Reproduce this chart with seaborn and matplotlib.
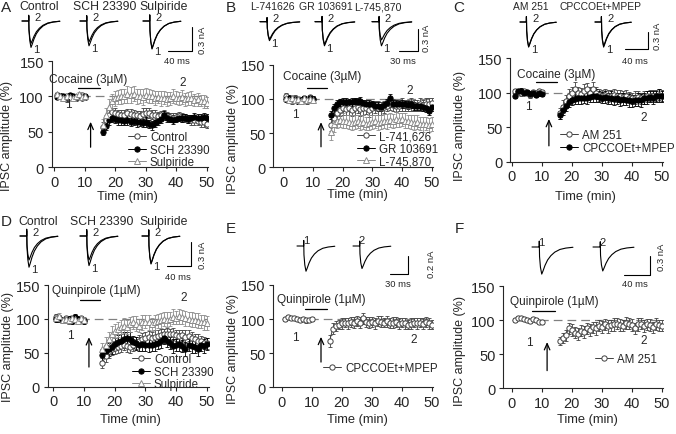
import matplotlib
matplotlib.use("Agg")
import pandas as pd
import matplotlib.pyplot as plt
from matplotlib.lines import Line2D
import seaborn as sns

W, H = 676, 435

# sampling times (min)
t_base = list(range(1, 11))
t_post = list(range(16, 51))

# ---- A: cocaine, D1/D2 antagonists
A_ctrl_b = [102, 100, 98, 96, 101, 99, 97, 100, 102, 99]
A_ctrl_p = [57, 66, 74, 78, 77, 75, 74, 73, 76, 75, 74, 73, 72, 75, 77, 76, 74, 73, 72, 73,
            74, 72, 71, 70, 71, 72, 70, 69, 68, 67, 66, 65, 64, 63, 61]
A_sch_b = [99, 101, 100, 98, 102, 100, 99, 101, 98, 100]
A_sch_p = [50, 58, 66, 70, 68, 67, 66, 65, 66, 64, 65, 63, 64, 62, 64, 61, 59, 62, 65, 68,
           74, 70, 68, 67, 68, 70, 69, 70, 68, 69, 71, 69, 70, 71, 70]
A_sul_b = [103, 100, 98, 101, 99, 97, 100, 103, 99, 100]
A_sul_p = [60, 73, 85, 93, 97, 99, 100, 101, 103, 102, 104, 100, 101, 99, 102, 101, 100, 98, 99, 97,
           98, 96, 97, 100, 98, 97, 99, 96, 97, 98, 95, 96, 94, 93, 91]
A_err_b = [3, 4, 3, 4, 3, 3, 4, 3, 3, 4]
A_ctrl_e = [7, 8, 7, 6, 7, 6, 7, 7, 6, 7, 7, 6, 7, 8, 7, 7, 6, 7, 6, 6,
            7, 6, 6, 7, 6, 6, 7, 6, 6, 7, 6, 6, 7, 6, 6]
A_sch_e = [5, 6, 7, 6, 6, 7, 6, 6, 7, 6, 6, 7, 6, 6, 7, 6, 6, 5, 6, 6,
           5, 6, 5, 6, 5, 5, 6, 5, 6, 5, 5, 6, 5, 5, 5]
A_sul_e = [8, 10, 11, 10, 11, 10, 11, 10, 12, 11, 10, 11, 10, 11, 10, 10, 9, 10, 9, 10,
           9, 10, 9, 10, 9, 9, 10, 9, 9, 10, 9, 9, 8, 9, 8]

# ---- B: cocaine, D2/D3/D4 antagonists
B_l741_b = [104, 100, 97, 102, 99, 98, 100, 97, 103, 100]
B_l741_p = [62, 72, 80, 84, 86, 85, 87, 84, 86, 88, 85, 86, 87, 84, 86, 88, 87, 86, 88, 90,
            92, 91, 89, 90, 92, 91, 90, 92, 91, 90, 92, 91, 93, 92, 94]
B_gr_b = [100, 102, 98, 100, 97, 99, 101, 98, 102, 100]
B_gr_p = [76, 86, 93, 95, 95, 96, 95, 96, 97, 96, 97, 94, 93, 93, 92, 90, 89, 88, 91, 94,
          101, 93, 92, 92, 93, 92, 91, 92, 90, 89, 90, 88, 87, 82, 88]
B_l745_b = [101, 99, 102, 98, 100, 97, 101, 99, 100, 98]
B_l745_p = [52, 63, 68, 69, 68, 67, 66, 65, 66, 67, 65, 66, 64, 65, 66, 67, 65, 66, 68, 67,
            69, 68, 70, 69, 70, 68, 67, 66, 65, 66, 64, 63, 64, 62, 63]
B_err_b = [4, 3, 4, 3, 4, 3, 3, 4, 3, 4]
B_l741_e = [9, 9, 10, 9, 10, 9, 10, 9, 10, 9, 10, 9, 9, 10, 9, 9, 10, 9, 9, 8,
            8, 9, 8, 8, 9, 8, 8, 9, 8, 8, 9, 8, 8, 9, 8]
B_gr_e = [6, 6, 5, 5, 6, 5, 5, 6, 5, 5, 6, 5, 5, 6, 5, 5, 6, 5, 5, 6,
          6, 5, 6, 5, 6, 5, 6, 5, 6, 5, 6, 5, 6, 6, 6]
B_l745_e = [12, 11, 10, 10, 11, 10, 10, 11, 10, 10, 11, 10, 10, 11, 10, 10, 11, 10, 10, 11,
            10, 10, 11, 10, 10, 11, 10, 10, 11, 10, 10, 11, 10, 10, 10]

# ---- C: cocaine, CB1 / mGluR antagonists
C_am_b = [103, 101, 99, 102, 100, 97, 101, 99, 102, 101]
C_am_p = [70, 80, 88, 95, 100, 105, 100, 98, 103, 105, 100, 105, 100, 97, 96, 97, 95, 96, 97, 95,
          96, 94, 95, 93, 92, 93, 94, 92, 93, 95, 96, 95, 96, 97, 96]
C_cp_b = [96, 102, 103, 100, 101, 98, 100, 97, 99, 98]
C_cp_p = [68, 75, 81, 87, 90, 91, 92, 92, 93, 92, 94, 95, 96, 94, 93, 94, 92, 93, 91, 92,
          90, 91, 90, 89, 88, 89, 90, 89, 92, 93, 94, 93, 95, 96, 95]
C_err_b = [3, 3, 4, 3, 3, 4, 3, 3, 4, 3]
C_am_e = [8, 9, 9, 10, 9, 10, 9, 9, 10, 9, 9, 10, 9, 9, 8, 8, 9, 8, 8, 9,
          8, 8, 9, 8, 8, 9, 8, 8, 9, 8, 8, 9, 8, 8, 8]
C_cp_e = [6, 7, 7, 8, 8, 8, 9, 8, 8, 9, 8, 8, 9, 8, 8, 9, 8, 9, 9, 8,
          9, 9, 8, 9, 9, 8, 9, 9, 8, 9, 8, 9, 8, 9, 8]

# ---- D: quinpirole, D1/D2 antagonists
D_ctrl_b = [103, 100, 98, 101, 97, 100, 102, 99, 101, 98]
D_ctrl_p = [35, 45, 52, 55, 57, 58, 60, 62, 60, 58, 62, 65, 68, 70, 72, 73, 72, 74, 75, 76,
            77, 78, 77, 78, 76, 75, 76, 74, 75, 72, 70, 68, 67, 65, 64]
D_sch_b = [100, 101, 98, 99, 100, 97, 103, 100, 99, 97]
D_sch_p = [47, 52, 55, 58, 63, 66, 68, 70, 72, 70, 66, 64, 62, 63, 62, 61, 62, 63, 64, 67,
           72, 68, 64, 60, 62, 63, 60, 56, 62, 60, 58, 56, 62, 60, 63]
D_sul_b = [101, 104, 99, 100, 98, 102, 100, 97, 101, 99]
D_sul_p = [55, 62, 70, 78, 82, 85, 88, 90, 88, 92, 95, 93, 90, 95, 96, 95, 92, 95, 97, 98,
           100, 99, 100, 103, 102, 104, 103, 101, 100, 99, 98, 97, 96, 95, 94]
D_err_b = [4, 5, 4, 4, 5, 4, 4, 5, 4, 4]
D_ctrl_e = [8, 9, 9, 8, 9, 8, 9, 8, 9, 8, 9, 9, 8, 9, 8, 9, 8, 9, 8, 9,
            8, 9, 8, 9, 8, 9, 8, 9, 8, 9, 8, 9, 8, 9, 8]
D_sch_e = [9, 10, 9, 10, 9, 10, 9, 10, 9, 10, 9, 10, 9, 10, 9, 10, 9, 10, 9, 10,
           9, 10, 9, 10, 9, 10, 9, 10, 9, 10, 9, 10, 9, 10, 9]
D_sul_e = [10, 11, 10, 11, 10, 11, 10, 11, 10, 11, 10, 11, 10, 11, 10, 11, 10, 11, 10, 11,
           10, 11, 10, 11, 10, 11, 10, 11, 10, 11, 10, 11, 10, 11, 10]

# ---- E: quinpirole + CPCCOEt+MPEP
E_cp_b = [100, 103, 101, 102, 100, 99, 100, 98, 99, 100]
E_cp_p = [68, 86, 90, 92, 94, 95, 94, 96, 95, 97, 95, 101, 96, 95, 96, 94, 97, 96, 95, 97,
          94, 95, 96, 93, 95, 94, 92, 93, 95, 94, 95, 93, 96, 94, 92]
E_err_b = [3, 3, 3, 3, 3, 3, 3, 3, 3, 3]
E_cp_e = [9, 8, 7, 7, 8, 7, 8, 7, 8, 7, 8, 8, 7, 8, 7, 8, 7, 8, 7, 8,
          7, 8, 7, 8, 7, 8, 7, 8, 7, 8, 7, 8, 7, 8, 7]

# ---- F: quinpirole + AM 251
F_am_b = [100, 103, 104, 102, 101, 99, 102, 100, 97, 98]
F_am_p = [70, 74, 78, 88, 86, 82, 80, 85, 83, 88, 86, 90, 88, 92, 90, 94, 91, 93, 94, 95,
          93, 92, 96, 95, 93, 88, 94, 95, 92, 94, 93, 90, 95, 93, 92]
F_err_b = [3, 3, 3, 3, 3, 3, 3, 3, 3, 3]
F_am_e = [6, 7, 8, 8, 9, 8, 9, 8, 9, 8, 9, 8, 9, 8, 9, 8, 9, 8, 9, 8,
          9, 8, 9, 8, 9, 8, 9, 8, 9, 8, 9, 8, 9, 8, 8]

# inset current trace shape (ms, fraction of the peak)
trace_t = [0, 11, 11.2, 11.6, 13, 15, 17, 20, 24, 29, 35, 43, 52, 63]
trace_v = [0, 0, 0.22, -0.35, -0.75, -1.0, -0.88, -0.68, -0.48, -0.32, -0.19, -0.09, -0.04, -0.01]

# peak amplitudes (nA) of trace 1 / trace 2 for each inset
A_amps = [(0.33, 0.28), (0.31, 0.26), (0.35, 0.34)]
B_amps = [(0.26, 0.24), (0.33, 0.31), (0.33, 0.25)]
C_amps = [(0.44, 0.43), (0.44, 0.42)]
D_amps = [(0.39, 0.30), (0.37, 0.30), (0.35, 0.34)]
E_amps = [(0.28,), (0.25,)]
F_amps = [(0.43,), (0.38,)]

A_drugs = ["Control", "SCH 23390", "Sulpiride"]
B_drugs = ["L-741626", "GR 103691", "L-745,870"]
C_drugs = ["AM 251", "CPCCOEt+MPEP"]

OPEN = dict(marker="o", mfc="white", color="#404040")
FILL = dict(marker="o", mfc="black", color="black")
TRI = dict(marker="^", mfc="white", color="#8c8c8c")


def fx(px):
    return px / W


def fy(py):
    return 1 - py / H


def draw_series(ax, base, post, err_b, err_p, st):
    df = pd.DataFrame({"time": t_base + t_post, "amp": base + post,
                       "err": err_b + err_p,
                       "seg": [0] * len(base) + [1] * len(post)})
    ax.errorbar(df["time"], df["amp"], yerr=df["err"], fmt="none", ecolor=st["color"],
                elinewidth=0.6, capsize=1.2, capthick=0.6, zorder=2)
    sns.lineplot(data=df, x="time", y="amp", units="seg", estimator=None, ax=ax,
                 color=st["color"], lw=0.7, marker=st["marker"], markersize=3.8,
                 markerfacecolor=st["mfc"], markeredgecolor=st["color"],
                 markeredgewidth=0.7, legend=False, zorder=3)


def main_panel(fig, p):
    l, t, r, b = p["box"]
    ax = fig.add_axes([fx(l), fy(b), (r - l) / W, (b - t) / H])
    for lab, base, post, eb, ep, st in p["series"]:
        draw_series(ax, base, post, eb, ep, st)
    ax.set_xlim(p["xmin"], 50.5)
    ax.set_ylim(0, 150)
    ax.set_xticks([0, 10, 20, 30, 40, 50])
    ax.set_yticks([0, 50, 100, 150])
    sns.despine(ax=ax)
    ax.tick_params(direction="out", length=3, width=0.8, labelsize=10.5, pad=2.5)
    ax.hlines(100, 0, 50, colors="#808080", linestyles=(0, (7, 4)), lw=0.9, zorder=1)
    ax.set_xlabel("Time (min)", fontsize=9.3)
    ax.set_ylabel("IPSC amplitude (%)", fontsize=9)
    ax.xaxis.set_label_coords(fx(p["xlab"][0]), fy(p["xlab"][1]), transform=fig.transFigure)
    # rotated y label: the anchor is its right edge, vertical centre
    ax.yaxis.set_label_coords(fx(p["ylab"][0]), fy(p["ylab"][1]), transform=fig.transFigure)

    # drug application bar, arrow and labels
    bx0, bx1, by = p["bar"]
    ax.plot([bx0, bx1], [by, by], color="black", lw=0.9)
    ax.text(p["drug_xy"][0], p["drug_xy"][1], p["drug"], ha="center", va="center", fontsize=8.6)
    axx, ay0, ay1 = p["arrow"]
    ax.annotate("", xy=(axx, ay1), xytext=(axx, ay0),
                arrowprops=dict(arrowstyle="->,head_length=0.5,head_width=0.22", color="black",
                                lw=0.9, mutation_scale=9, shrinkA=0, shrinkB=0))
    ax.text(p["n1"][0], p["n1"][1], "1", ha="center", va="center", fontsize=8.5)
    ax.text(p["n2"][0], p["n2"][1], "2", ha="center", va="center", fontsize=8.5)

    handles = [Line2D([0], [0], color=st["color"], lw=0.7, marker=st["marker"], markersize=3.8,
                      markerfacecolor=st["mfc"], markeredgecolor=st["color"], markeredgewidth=0.7)
               for _, _, _, _, _, st in p["series"]]
    labels = [s[0] for s in p["series"]]
    ax.legend(handles, labels, loc="upper left", bbox_to_anchor=(fx(p["leg"][0]), fy(p["leg"][1])),
              bbox_transform=fig.transFigure, frameon=False, fontsize=8.3, handlelength=1.6,
              handletextpad=0.3, labelspacing=0.05, borderpad=0, borderaxespad=0)
    fig.text(fx(p["letter"][1]), fy(p["letter"][2]), p["letter"][0], fontsize=11,
             ha="left", va="center")


def inset(fig, q):
    x0, y0, x1, y1 = q["box"]
    base, pms, pna = q["base"], q["pms"], q["pna"]
    ax = fig.add_axes([fx(x0), fy(y1), (x1 - x0) / W, (y1 - y0) / H])
    ax.set_xlim(0, (x1 - x0) / pms)
    ax.set_ylim(-(y1 - base) / pna, (base - y0) / pna)
    ax.axis("off")
    for start, amps in zip(q["starts"], q["amps"]):
        t0 = (start - x0) / pms
        for a in amps:
            sns.lineplot(x=[t0 + v for v in trace_t], y=[a * v for v in trace_v], ax=ax,
                         sort=False, estimator=None, color="black", lw=0.8)
        if q["mode"] == "pair":
            fig.text(fx(start + 14), fy(base + amps[0] * pna + 2), "1", fontsize=8,
                     ha="center", va="center")
            fig.text(fx(start + 16), fy(base - 4), "2", fontsize=8, ha="center", va="center")
    if q["mode"] == "single":
        for (lx, ly), s in zip(q["labpos"], ["1", "2"]):
            fig.text(fx(lx), fy(ly), s, fontsize=8, ha="center", va="center")
    # scale bar
    cx, cy = q["corner"]
    cxd, cyd = (cx - x0) / pms, (base - cy) / pna
    ax.plot([cxd - q["sms"], cxd, cxd], [cyd, cyd, cyd + q["sna"]], color="black", lw=0.8)
    fig.text(fx(q["ms_xy"][0]), fy(q["ms_xy"][1]), f"{q['sms']} ms", fontsize=6.8,
             ha="center", va="center")
    fig.text(fx(q["na_xy"][0]), fy(q["na_xy"][1]), f"{q['sna']} nA", fontsize=6.8,
             ha="center", va="center", rotation=90)
    for name, cxl in zip(q.get("drugs", []), q.get("drug_x", [])):
        fig.text(fx(cxl), fy(q["drug_y"]), name, fontsize=q.get("drug_fs", 8.8),
                 ha="center", va="center")


sns.set_style("ticks")
plt.rcParams["font.family"] = ["Liberation Sans", "DejaVu Sans"]
plt.rcParams["axes.linewidth"] = 0.8

fig = plt.figure(figsize=(W / 100, H / 100), dpi=100)

panels = [
    dict(box=(51.6, 62, 208.2, 168), xmin=-0.9, letter=("A", 1, 8),
         series=[("Control", A_ctrl_b, A_ctrl_p, A_err_b, A_ctrl_e, OPEN),
                 ("SCH 23390", A_sch_b, A_sch_p, A_err_b, A_sch_e, FILL),
                 ("Sulpiride", A_sul_b, A_sul_p, A_err_b, A_sul_e, TRI)],
         drug="Cocaine (3µM)", drug_xy=(11.2, 124), bar=(7.8, 15.0, 112), arrow=(11.9, 28, 64),
         n1=(4.5, 89), n2=(42.2, 120), leg=(128, 132), xlab=(127, 191), ylab=(13, 136)),
    dict(box=(273.3, 65.7, 433.2, 168.3), xmin=-3.37, letter=("B", 226, 8),
         series=[("L-741,626", B_l741_b, B_l741_p, B_err_b, B_l741_e, OPEN),
                 ("GR 103691", B_gr_b, B_gr_p, B_err_b, B_gr_e, FILL),
                 ("L-745,870", B_l745_b, B_l745_p, B_err_b, B_l745_e, TRI)],
         drug="Cocaine (3µM)", drug_xy=(13.2, 134), bar=(8.0, 14.7, 116), arrow=(12.7, 30, 66),
         n1=(3.9, 78), n2=(42.7, 113), leg=(357, 131), xlab=(357, 189), ylab=(239, 139)),
    dict(box=(510, 59.3, 663.2, 162.7), xmin=-0.57, letter=("C", 453, 8),
         series=[("AM 251", C_am_b, C_am_p, C_err_b, C_am_e, OPEN),
                 ("CPCCOEt+MPEP", C_cp_b, C_cp_p, C_err_b, C_cp_e, FILL)],
         drug="Cocaine (3µM)", drug_xy=(14.8, 127), bar=(8.1, 15.1, 115.6), arrow=(12.4, 23, 62),
         n1=(5.4, 81), n2=(44.1, 65), leg=(560, 130), xlab=(585, 191), ylab=(466, 126)),
    dict(box=(47.7, 286, 208.5, 387.7), xmin=-1.82, letter=("D", 1, 222),
         series=[("Control", D_ctrl_b, D_ctrl_p, D_err_b, D_ctrl_e, OPEN),
                 ("SCH 23390", D_sch_b, D_sch_p, D_err_b, D_sch_e, FILL),
                 ("Sulpiride", D_sul_b, D_sul_p, D_err_b, D_sul_e, TRI)],
         drug="Quinpirole (1µM)", drug_xy=(13.9, 143), bar=(8.7, 15.2, 128), arrow=(11.6, 29, 73),
         n1=(5.4, 76), n2=(42.5, 132), leg=(132, 354), xlab=(130, 414), ylab=(14, 347)),
    dict(box=(273.3, 286, 433.2, 388.3), xmin=-2.8, letter=("E", 226, 229),
         series=[("CPCCOEt+MPEP", E_cp_b, E_cp_p, E_err_b, E_cp_e, OPEN)],
         drug="Quinpirole (1µM)", drug_xy=(13.1, 129), bar=(7.8, 15.1, 115), arrow=(13.1, 37, 74),
         n1=(4.4, 74), n2=(44.1, 71), leg=(323, 363), xlab=(357, 414), ylab=(239, 349)),
    dict(box=(503.3, 287.3, 663.2, 389.3), xmin=-2.8, letter=("F", 455, 229),
         series=[("AM 251", F_am_b, F_am_p, F_err_b, F_am_e, OPEN)],
         drug="Quinpirole (1µM)", drug_xy=(14.1, 128), bar=(6.8, 14.4, 113.6), arrow=(11.8, 26, 68),
         n1=(5.8, 68), n2=(44.1, 71), leg=(595, 354), xlab=(587, 414), ylab=(466, 351)),
]

insets = [
    dict(box=(15, 14, 210, 58), base=22, pms=0.6, pna=80, starts=[22, 80, 143], amps=A_amps,
         mode="pair", corner=(192, 52), sms=40, sna=0.3, ms_xy=(177, 62), na_xy=(202, 40),
         drugs=A_drugs, drug_x=[39, 105, 163.5], drug_y=7),
    dict(box=(240, 14, 440, 58), base=22.7, pms=0.63, pna=73, starts=[260, 315, 372], amps=B_amps,
         mode="pair", corner=(418, 52), sms=30, sna=0.3, ms_xy=(403, 62), na_xy=(427, 38),
         drugs=B_drugs, drug_x=[272.5, 326, 377.5], drug_y=7, drug_fs=7.6),
    dict(box=(500, 14, 670, 58), base=23, pms=0.575, pna=57, starts=[520, 595], amps=C_amps,
         mode="pair", corner=(648, 50), sms=40, sna=0.3, ms_xy=(635, 62), na_xy=(658, 36),
         drugs=C_drugs, drug_x=[530.5, 601], drug_y=7, drug_fs=7.4),
    dict(box=(15, 229, 210, 273), base=237, pms=0.6, pna=80, starts=[20, 80, 142], amps=D_amps,
         mode="pair", corner=(191, 267), sms=40, sna=0.3, ms_xy=(178, 278), na_xy=(202, 255),
         drugs=A_drugs, drug_x=[38, 101.5, 163.5], drug_y=222),
    dict(box=(290, 240, 440, 281), base=247, pms=0.6, pna=90, starts=[297, 353], amps=E_amps,
         mode="single", labpos=[(306, 241), (362, 241)], corner=(408, 275), sms=30, sna=0.2,
         ms_xy=(398, 285), na_xy=(431, 264)),
    dict(box=(520, 240, 675, 283), base=248, pms=0.65, pna=63, starts=[532, 593], amps=F_amps,
         mode="single", labpos=[(541, 243), (603, 243)], corner=(650, 276), sms=40, sna=0.3,
         ms_xy=(635, 285), na_xy=(661, 257)),
]

for p in panels:
    main_panel(fig, p)
for q in insets:
    inset(fig, q)

fig.savefig("out.png", dpi=100)
